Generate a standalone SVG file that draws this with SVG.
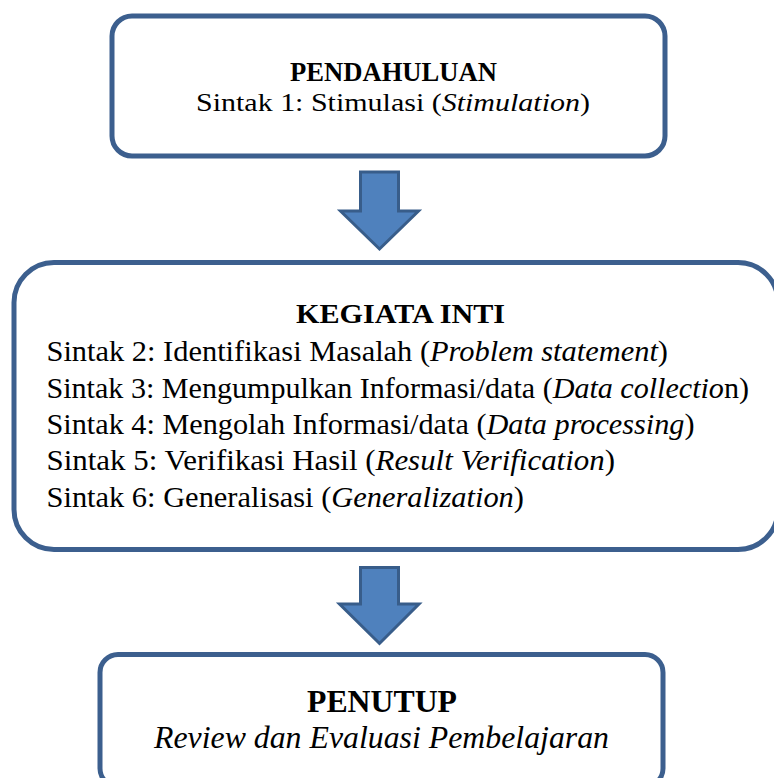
<svg xmlns="http://www.w3.org/2000/svg" width="774" height="778" viewBox="0 0 774 778">
<style>
.box{fill:#ffffff;stroke:#3C5F8E;stroke-width:5}
.arr{fill:#4F81BD;stroke:#385D8A;stroke-width:3;stroke-linejoin:miter}
text{font-family:"Liberation Serif","Times New Roman",serif;fill:#000000}
.b{font-weight:bold}
.i{font-style:italic}
</style>
<rect width="774" height="778" fill="#ffffff"/>
<g id="connectors">
<polygon class="arr" points="360.5,172 398.5,172 398.5,211 418.5,211 379.5,249 340.5,211 360.5,211"/>
<polygon class="arr" points="360.5,567.5 398.5,567.5 398.5,604 419,604 379.5,643.5 339.5,604 360.5,604"/>
</g>
<g id="pendahuluan">
<rect class="box" x="112" y="16" width="553" height="140" rx="20" ry="20"/>
<text class="b" x="290" y="81" font-size="27" textLength="207" lengthAdjust="spacingAndGlyphs">PENDAHULUAN</text>
<text x="196" y="111" font-size="25" textLength="394" lengthAdjust="spacingAndGlyphs">Sintak 1: Stimulasi (<tspan class="i">Stimulation</tspan>)</text>
</g>
<g id="kegiatan-inti">
<rect class="box" x="14" y="262.5" width="764" height="287" rx="40" ry="40"/>
<text class="b" x="296" y="323" font-size="28" textLength="209" lengthAdjust="spacingAndGlyphs">KEGIATA INTI</text>
<text x="46.5" y="361" font-size="30" textLength="621.5" lengthAdjust="spacingAndGlyphs">Sintak 2: Identifikasi Masalah (<tspan class="i">Problem statement</tspan>)</text>
<text x="46.5" y="397.5" font-size="30" textLength="702.5" lengthAdjust="spacingAndGlyphs">Sintak 3: Mengumpulkan Informasi/data (<tspan class="i">Data collectio</tspan>n)</text>
<text x="46.5" y="434" font-size="30" textLength="648" lengthAdjust="spacingAndGlyphs">Sintak 4: Mengolah Informasi/data (<tspan class="i">Data processing</tspan>)</text>
<text x="46.5" y="470" font-size="30" textLength="568.5" lengthAdjust="spacingAndGlyphs">Sintak 5: Verifikasi Hasil (<tspan class="i">Result Verification</tspan>)</text>
<text x="46.5" y="506.5" font-size="30" textLength="477.5" lengthAdjust="spacingAndGlyphs">Sintak 6: Generalisasi (<tspan class="i">Generalization</tspan>)</text>
</g>
<g id="penutup">
<rect class="box" x="100" y="654.5" width="563" height="132" rx="18" ry="18"/>
<text class="b" x="307" y="712" font-size="32" textLength="150" lengthAdjust="spacingAndGlyphs">PENUTUP</text>
<text class="i" x="154" y="748" font-size="31" textLength="455" lengthAdjust="spacingAndGlyphs">Review dan Evaluasi Pembelajaran</text>
</g>
</svg>
